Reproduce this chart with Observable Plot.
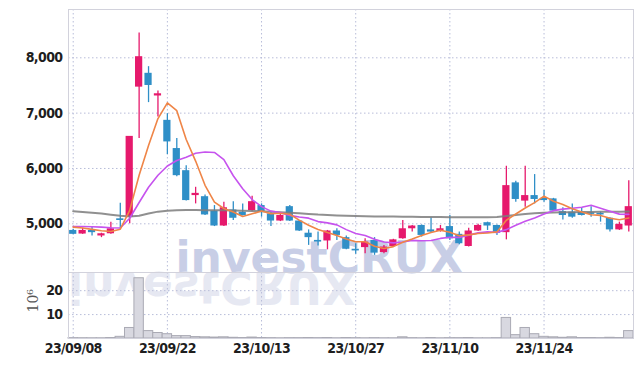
<!DOCTYPE html>
<html><head><meta charset="utf-8">
<script src="https://cdn.jsdelivr.net/npm/d3@7"></script>
<script src="https://cdn.jsdelivr.net/npm/@observablehq/plot@0.6"></script>
<style>
body{margin:0;background:#fff;}
#chart{position:relative;width:642px;height:366px;}
#chart svg{display:block;}
#chart svg g[aria-label="y-axis tick label"] text, #chart svg g[aria-label="x-axis tick label"] text{letter-spacing:-0.6px;}
</style></head><body><div id="chart"></div>
<script>
const dates = ["23/09/08","23/09/11","23/09/12","23/09/13","23/09/14","23/09/15","23/09/18","23/09/19","23/09/20","23/09/21",
"23/09/22","23/09/25","23/09/26","23/09/27","23/10/04","23/10/05","23/10/06","23/10/10","23/10/11","23/10/12",
"23/10/13","23/10/16","23/10/17","23/10/18","23/10/19","23/10/20","23/10/23","23/10/24","23/10/25","23/10/26",
"23/10/27","23/10/30","23/10/31","23/11/01","23/11/02","23/11/03","23/11/06","23/11/07","23/11/08","23/11/09",
"23/11/10","23/11/13","23/11/14","23/11/15","23/11/16","23/11/17","23/11/20","23/11/21","23/11/22","23/11/23",
"23/11/24","23/11/27","23/11/28","23/11/29","23/11/30","23/12/01","23/12/04","23/12/05","23/12/06","23/12/07"];
const open  = [4880,4815,4880,4780,4820,5090,5120,7470,7720,7310, 6870,6360,5960,5510,5490,5230,4960,5250,5210,5240,
               5330,5180,5050,5310,5050,4830,4700,4690,4870,4750, 4540,4570,4700,4480,4590,4730,4910,4970,4890,4860,
               4950,4810,4590,4870,5020,4970,4840,5740,5410,5510, 5460,5450,5220,5210,5210,5200,5190,5100,4890,4960];
const high  = [4900,4920,4940,4830,5030,5370,6580,8450,7840,7400, 6990,6540,6050,5660,5520,5330,5390,5400,5360,5500,
               5360,5200,5170,5330,5060,4890,4850,4880,4910,4780, 4640,4730,4750,4610,4720,5060,4970,4980,5110,4970,
               5150,4850,4920,4990,5030,4980,6040,5770,6040,5890, 5600,5460,5290,5360,5290,5310,5210,5110,5030,5780];
const low   = [4800,4810,4780,4750,4810,4910,5000,6540,7190,6930, 6250,5850,5410,5360,5150,4950,4950,5060,5140,5220,
               5120,4950,5040,5040,4860,4610,4600,4530,4700,4530, 4450,4460,4430,4460,4580,4720,4850,4760,4830,4850,
               4700,4620,4580,4860,4880,4790,4710,5390,5300,5360, 5390,5220,5070,5100,5140,5120,5030,4850,4880,4850];
const close = [4810,4880,4840,4820,4910,5060,6580,8020,7500,7350, 6480,5870,5420,5550,5160,4960,5290,5100,5150,5400,
               5210,5050,5150,5050,4870,4750,4670,4870,4790,4540, 4510,4670,4470,4580,4710,4910,4960,4790,4850,4910,
               4730,4640,4870,4970,4960,4830,5690,5440,5510,5440, 5420,5230,5150,5120,5150,5170,5160,4890,4990,5310];
// volume in millions of shares
const volume = [0.15,0.12,0.1,0.1,0.2,0.7,4.4,25.2,3.1,2.3, 1.8,1.0,1.0,0.6,0.5,0.4,0.5,0.3,0.2,0.4,
                0.2,0.15,0.1,0.15,0.15,0.2,0.15,0.2,0.1,0.2, 0.15,0.1,0.15,0.1,0.1,0.5,0.15,0.1,0.2,0.1,
                0.15,0.15,0.2,0.1,0.1,0.15,8.6,1.4,4.4,1.8, 0.7,0.5,0.3,0.5,0.2,0.2,0.15,0.3,0.2,3.1];
const ma5  = [4940,4925,4900,4875,4860,4902,5242,5878,6414,6902, 7186,7044,6524,6134,5696,5392,5276,5212,5132,5180,
              5230,5182,5192,5172,5066,4974,4898,4842,4790,4724, 4676,4676,4596,4554,4588,4668,4726,4790,4844,4884,
              4848,4784,4800,4824,4834,4854,5064,5178,5286,5382, 5500,5408,5350,5272,5214,5164,5152,5100,5074,5106];
const ma10 = [4950,4950,4948,4940,4930,4925,5100,5385,5660,5877, 6044,6143,6201,6274,6299,6289,6160,5868,5633,5438,
              5311,5229,5202,5152,5123,5102,5040,5017,4981,4895, 4825,4787,4719,4672,4656,4672,4701,4693,4699,4736,
              4758,4755,4795,4836,4855,4845,4895,4975,5045,5105, 5179,5238,5266,5281,5300,5334,5282,5227,5175,5170];
const ma60 = [5228,5215,5200,5185,5165,5145,5132,5145,5185,5220, 5238,5245,5248,5248,5247,5245,5243,5240,5236,5232,
              5226,5218,5210,5200,5190,5178,5166,5158,5150,5145, 5140,5137,5134,5132,5130,5128,5126,5124,5122,5121,
              5120,5119,5118,5118,5119,5122,5140,5160,5178,5192, 5200,5205,5208,5210,5212,5214,5216,5218,5220,5222];
const tickDates = ["23/09/08","23/09/22","23/10/13","23/10/27","23/11/10","23/11/24"];
const priceTicks = [5000,6000,7000,8000];
const volTicks = [10,20];

const rows = dates.map((d,i)=>({date:d,o:open[i],h:high[i],l:low[i],c:close[i],v:volume[i],ma5:ma5[i],ma10:ma10[i],ma60:ma60[i]}));
const UP="#e6196c", DOWN="#2f8fc7";
const col = d => d.c >= d.o ? UP : DOWN;
const FONT = "'Liberation Sans Narrow','DejaVu Sans Condensed',sans-serif";
const GRID = "#b8bdd9";
const WM = "investCRUX";
const WMFONT = "'DejaVu Sans',sans-serif";

const price = Plot.plot({
  width:642, height:272, marginTop:9, marginBottom:0, marginLeft:68, marginRight:9,
  style:{fontFamily:FONT, fontSize:"14px", color:"#1e1e1e", background:"transparent", overflow:"visible"},
  x:{type:"band", domain:dates, padding:0, round:false, axis:null},
  y:{domain:[4120,8873], axis:null},
  color:{type:"identity"},
  marks:[
    Plot.ruleX(tickDates, {x:d=>d, stroke:GRID, strokeDasharray:"1.5,2.5"}),
    Plot.ruleY(priceTicks, {y:d=>d, stroke:GRID, strokeDasharray:"1.5,2.5"}),
    Plot.text([WM], {frameAnchor:"bottom-left", dx:107, lineAnchor:"bottom", textAnchor:"start",
      fontSize:44, fontWeight:"bold", fontFamily:WMFONT, fill:"#c8cee6"}),
    Plot.ruleX(rows, {x:"date", y1:"l", y2:"h", stroke:col, strokeWidth:1.3}),
    Plot.barY(rows, {x:"date", y1:"o", y2:"c", fill:col, insetLeft:1.1, insetRight:1.1}),
    Plot.line(rows, {x:"date", y:"ma60", stroke:"#7d7d7d", strokeWidth:2, strokeOpacity:0.85}),
    Plot.line(rows, {x:"date", y:"ma10", stroke:"#c653ee", strokeWidth:1.6}),
    Plot.line(rows, {x:"date", y:"ma5", stroke:"#ef8547", strokeWidth:1.6}),
    Plot.axisY(priceTicks, {tickSize:0, tickPadding:6, tickFormat:d3.format(","), fontWeight:"bold", fill:"#1e1e1e", label:null}),
    Plot.frame({stroke:"#d2d2dc"})
  ]
});

const vol = Plot.plot({
  width:642, height:94, marginTop:0, marginBottom:28, marginLeft:68, marginRight:9,
  style:{fontFamily:FONT, fontSize:"14px", color:"#1e1e1e", background:"transparent", overflow:"visible"},
  x:{type:"band", domain:dates, padding:0, round:false, axis:null},
  y:{domain:[0,27.6], axis:null},
  marks:[
    Plot.text([WM], {frameAnchor:"top-left", dx:107, lineAnchor:"bottom", textAnchor:"start",
      fontSize:44, fontWeight:"bold", fontFamily:WMFONT, fill:"#e6e8f2"}),
    Plot.ruleX(tickDates, {x:d=>d, stroke:GRID, strokeDasharray:"1.5,2.5"}),
    Plot.ruleY(volTicks, {y:d=>d, stroke:GRID, strokeDasharray:"1.5,2.5"}),
    Plot.barY(rows, {x:"date", y:"v", fill:"#d8d8e0", stroke:"#aaaab4", strokeWidth:1}),
    Plot.axisY(volTicks, {tickSize:0, tickPadding:6, fontWeight:"bold", fill:"#1e1e1e", label:null}),
    Plot.axisX(tickDates, {tickSize:0, tickPadding:5, fontWeight:"bold", fill:"#1e1e1e", label:null}),
    Plot.text(["10\u2076"], {frameAnchor:"left", dx:-35, dy:7, rotate:-90, fontFamily:"'DejaVu Serif',serif", fontSize:14, fill:"#555"}),
    Plot.frame({stroke:"#d2d2dc"})
  ]
});

// flip the watermark reflection vertically about the top edge of the volume panel
d3.select(vol).selectAll("text").filter(function(){ return this.textContent === WM; })
  .each(function(){ d3.select(this.parentNode).attr("transform","scale(1,-1)"); });

const el = document.getElementById("chart");
el.appendChild(price);
el.appendChild(vol);
</script></body></html>
